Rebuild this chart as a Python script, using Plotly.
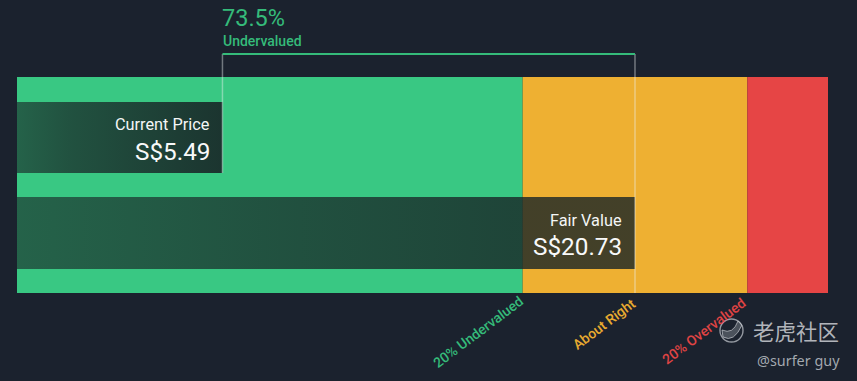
import plotly.graph_objects as go

# Values
current_price = 5.49
fair_value = 20.73
undervalued_limit = 16.58
overvalued_limit = 24.88
scale_start = -2.10
scale_end = 27.86
discount_text = "73.5%"
discount_label = "Undervalued"
zone_names = ["20% Undervalued", "About Right", "20% Overvalued"]
zone_ends = [undervalued_limit, overvalued_limit, scale_end]
zone_starts = [scale_start, undervalued_limit, overvalued_limit]

BG = "#1b222e"
GREEN = "#39c883"
YELLOW = "#eeb032"
RED = "#e64545"
GREEN_TXT = "#35bb7a"
YELLOW_TXT = "#e9ab30"
RED_TXT = "#e04444"

W, H = 857, 381
L, R, T, B = 17, 29, 77, 88


def px(x):
    return (x - L) / (W - L - R)


def py(y):
    return (H - B - y) / (H - T - B)


def yv(y):
    return 293 - y


fig = go.Figure()

for name, s, e, c in zip(zone_names, zone_starts, zone_ends, [GREEN, YELLOW, RED]):
    fig.add_trace(go.Bar(
        name=name, orientation="h", base=[s], x=[e - s], y=[yv(185)], width=[216],
        marker=dict(color=c, line_width=0), showlegend=False, hoverinfo="name",
    ))

# Gradient valuation bars
grad = [[0, "rgba(24,36,38,0.62)"], [0.25, "rgba(24,36,38,0.72)"], [1, "rgba(24,36,38,0.90)"]]
grad2 = [[0, "rgba(24,36,38,0.62)"], [0.4, "rgba(24,36,38,0.72)"], [0.8, "rgba(24,36,38,0.80)"], [1, "rgba(24,36,38,0.80)"]]
for v, top, bot, g, name in [(current_price, 102, 173, grad, "Current Price"),
                             (fair_value, 197, 269, grad2, "Fair Value")]:
    fig.add_trace(go.Scatter(
        x=[scale_start, v, v, scale_start, scale_start],
        y=[yv(top), yv(top), yv(bot), yv(bot), yv(top)],
        mode="lines", line_width=0, fill="toself", name=name, showlegend=False,
        fillgradient=dict(type="horizontal", colorscale=g),
    ))

line_w = "rgba(235,240,240,0.42)"
shapes = [
    dict(type="line", xref="x", yref="paper", x0=current_price, x1=current_price, y0=py(173), y1=py(54),
         line=dict(color=line_w, width=1.5)),
    dict(type="line", xref="x", yref="paper", x0=fair_value, x1=fair_value, y0=py(293), y1=py(54),
         line=dict(color=line_w, width=1.5)),
    dict(type="line", xref="x", yref="paper", x0=current_price, x1=fair_value, y0=py(54), y1=py(54),
         line=dict(color=GREEN_TXT, width=2)),
]

FONT = "Roboto, sans-serif"
ann = []


def text(t, x, y, size, color, anchor="left", angle=0, font=FONT, weight=None):
    f = dict(size=size, color=color, family=font)
    if weight:
        f["weight"] = weight
    ann.append(dict(text=t, x=px(x), y=py(y), xref="paper", yref="paper", xanchor=anchor, yanchor="middle",
                    showarrow=False, font=f, textangle=angle, borderpad=0, borderwidth=0))


text(discount_text, 222.5, 18, 23.5, GREEN_TXT)
text(discount_label, 222.5, 40.5, 14, GREEN_TXT, weight=500)
text("Current Price", 210, 124, 16.3, "#f4f6f6", "right")
text(f"S${current_price:.2f}", 210, 151, 24.3, "#f8f9f9", "right")
text("Fair Value", 621.5, 220, 16.3, "#f4f6f6", "right")
text(f"S${fair_value:.2f}", 621.5, 246, 24.3, "#f8f9f9", "right")
text(zone_names[0], 478, 332, 14, GREEN_TXT, "center", -37, weight=500)
text(zone_names[1], 604, 324, 14, YELLOW_TXT, "center", -37, weight=500)
text(zone_names[2], 704, 331, 14, RED_TXT, "center", -37, weight=500)
text("老虎社区", 753, 330, 21.5, "rgba(205,208,212,0.85)", font="Noto Sans CJK SC")
text("@surfer guy", 757, 360, 14.4, "rgba(190,194,200,0.85)", font="Noto Sans")

# Watermark logo
logo = "rgba(190,194,200,0.75)"
shapes += [
    dict(type="circle", xref="paper", yref="paper", x0=px(720), x1=px(743), y0=py(342), y1=py(319),
         line=dict(color=logo, width=1.4)),
    dict(type="path", xref="paper", yref="paper",
         path=f"M {px(722)} {py(330)} Q {px(733)} {py(335)} {px(738)} {py(321)} L {px(742)} {py(325)} "
              f"Q {px(734)} {py(343)} {px(723)} {py(337)} Z",
         line=dict(color=logo, width=1), fillcolor="rgba(190,194,200,0.3)"),
]

fig.update_layout(
    width=W, height=H, autosize=False, paper_bgcolor=BG, plot_bgcolor=BG,
    margin=dict(l=L, r=R, t=T, b=B, pad=0), barmode="overlay", showlegend=False,
    xaxis=dict(range=[scale_start, scale_end], visible=False, fixedrange=True),
    yaxis=dict(range=[0, 216], visible=False, fixedrange=True),
    annotations=ann, shapes=shapes,
)
fig.write_html("out.html", config={"displayModeBar": False},
               post_script="document.body.style.margin='0';document.body.style.background='#1b222e';"
                           "document.documentElement.style.overflow='hidden';")
